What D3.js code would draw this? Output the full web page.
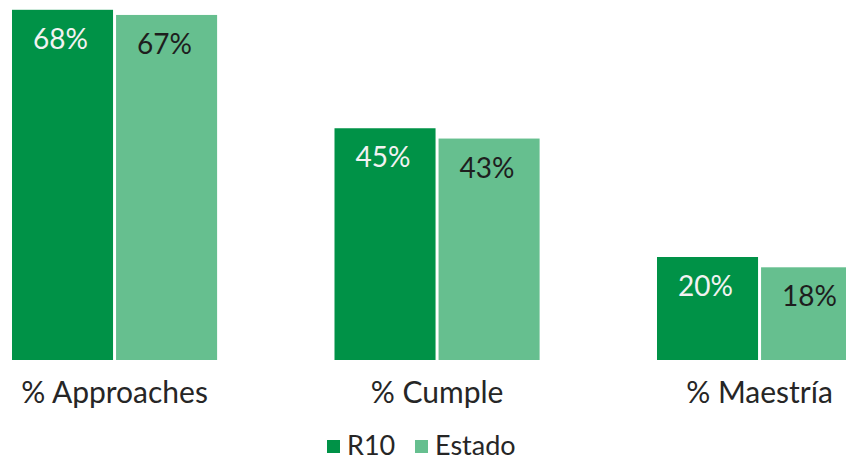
<!DOCTYPE html>
<html lang="es">
<head>
<meta charset="UTF-8">
<script src="https://d3js.org/d3.v7.min.js"></script>
<style>
  body { margin: 0; background: #fff; }
  text { font-family: Lato, "Open Sans", sans-serif; }
</style>
</head>
<body>
<div id="container"></div>
<script>
// datos
var categories = ["% Approaches", "% Cumple", "% Maestría"];
var seriesNames = ["R10", "Estado"];
var r10 = [68, 45, 20];
var estado = [67, 43, 18];

var colors = {"R10": "#009247", "Estado": "#66bf8f"};
var labelColors = {"R10": "#f2f2f2", "Estado": "#1e1e1e"};

var width = 846, height = 463, baseline = 360;

var svg = d3.select("#container").append("svg")
    .attr("width", width).attr("height", height);

var x0 = d3.scaleBand().domain(categories)
    .range([-46.7, 920.8]).paddingInner(0.364).paddingOuter(0.182);
var x1 = d3.scaleBand().domain(seriesNames)
    .range([0, x0.bandwidth()]).paddingInner(0.029);
var y = d3.scaleLinear().domain([0, 70]).range([baseline, -0.5]);

var rows = categories.map(function(c, i) {
  return {cat: c, vals: [{s: "R10", v: r10[i]}, {s: "Estado", v: estado[i]}]};
});

var groups = svg.selectAll("g.grp").data(rows).enter().append("g")
    .attr("class", "grp")
    .attr("transform", function(d) { return "translate(" + x0(d.cat) + ",0)"; });

groups.selectAll("rect").data(function(d) { return d.vals; }).enter().append("rect")
    .attr("x", function(d) { return x1(d.s); })
    .attr("y", function(d) { return y(d.v); })
    .attr("width", x1.bandwidth())
    .attr("height", function(d) { return baseline - y(d.v); })
    .attr("fill", function(d) { return colors[d.s]; });

// etiquetas de valor
groups.selectAll("text.val").data(function(d) { return d.vals; }).enter().append("text")
    .attr("class", "val")
    .attr("x", function(d) { return x1(d.s) + x1.bandwidth() / 2 - 2; })
    .attr("y", function(d) { return y(d.v) + 39; })
    .attr("text-anchor", "middle")
    .attr("font-size", 28)
    .attr("fill", function(d) { return labelColors[d.s]; })
    .text(function(d) { return d.v + "%"; });

// eje x (solo etiquetas)
var xAxis = svg.append("g").attr("transform", "translate(0," + baseline + ")")
    .call(d3.axisBottom(x0).tickSize(0));
xAxis.select(".domain").remove();
xAxis.selectAll("text")
    .attr("y", 43).attr("dy", 0)
    .attr("font-size", 30).attr("fill", "#262626")
    .style("font-family", "Lato, 'Open Sans', sans-serif");

// leyenda
var legendX = [327, 415];
var legend = svg.selectAll("g.leg").data(seriesNames).enter().append("g")
    .attr("class", "leg")
    .attr("transform", function(d, i) { return "translate(" + legendX[i] + ",440)"; });
legend.append("rect").attr("width", 13).attr("height", 13)
    .attr("fill", function(d) { return colors[d]; });
legend.append("text").attr("x", 20).attr("y", 15)
    .attr("font-size", 27).attr("fill", "#262626")
    .text(function(d) { return d; });
</script>
</body>
</html>
